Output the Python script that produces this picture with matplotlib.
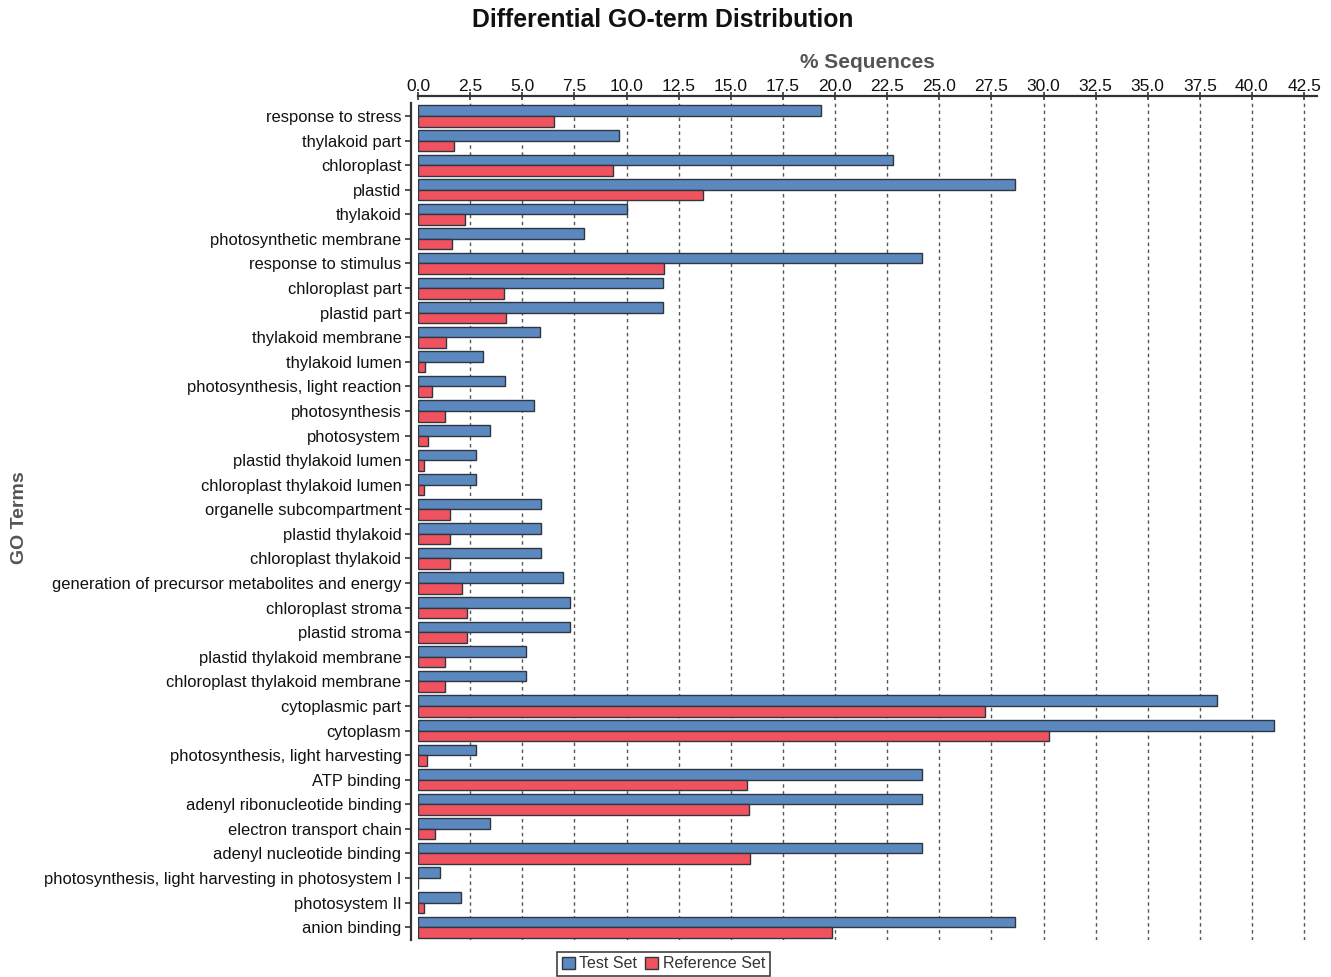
import matplotlib
matplotlib.use("Agg")
import matplotlib.pyplot as plt
import numpy as np
from matplotlib.patches import Patch

plt.rcParams['font.family'] = ['Liberation Sans', 'DejaVu Sans']

terms = ["response to stress", "thylakoid part", "chloroplast", "plastid", "thylakoid",
         "photosynthetic membrane", "response to stimulus", "chloroplast part", "plastid part",
         "thylakoid membrane", "thylakoid lumen", "photosynthesis, light reaction",
         "photosynthesis", "photosystem", "plastid thylakoid lumen", "chloroplast thylakoid lumen",
         "organelle subcompartment", "plastid thylakoid", "chloroplast thylakoid",
         "generation of precursor metabolites and energy", "chloroplast stroma", "plastid stroma",
         "plastid thylakoid membrane", "chloroplast thylakoid membrane", "cytoplasmic part",
         "cytoplasm", "photosynthesis, light harvesting", "ATP binding",
         "adenyl ribonucleotide binding", "electron transport chain", "adenyl nucleotide binding",
         "photosynthesis, light harvesting in photosystem I", "photosystem II", "anion binding"]

test_set = [19.32, 9.66, 22.77, 28.64, 10.0, 7.95, 24.17, 11.74, 11.74, 5.87, 3.11, 4.15,
            5.54, 3.46, 2.79, 2.79, 5.89, 5.89, 5.89, 6.93, 7.27, 7.27, 5.19, 5.19, 38.3,
            41.06, 2.79, 24.17, 24.17, 3.46, 24.17, 1.05, 2.07, 28.64]
reference_set = [6.51, 1.74, 9.33, 13.66, 2.26, 1.65, 11.82, 4.13, 4.2, 1.35, 0.33, 0.68,
                 1.27, 0.46, 0.28, 0.28, 1.51, 1.51, 1.51, 2.12, 2.34, 2.36, 1.3, 1.3, 27.19,
                 30.26, 0.42, 15.8, 15.85, 0.79, 15.9, 0.02, 0.28, 19.86]

x_ticks = [0.0, 2.5, 5.0, 7.5, 10.0, 12.5, 15.0, 17.5, 20.0, 22.5, 25.0, 27.5, 30.0,
           32.5, 35.0, 37.5, 40.0, 42.5]

blue = "#5B89BF"
red = "#F0535F"
edge = "#2F3640"

fig = plt.figure(figsize=(13.31, 9.77), dpi=100)
ax = fig.add_axes([0.3141, 0.0379, 0.6751, 0.8567])

y = np.arange(len(terms))
h = 0.43
ax.barh(y - h / 2, test_set, height=h, color=blue, edgecolor=edge, linewidth=1.0, zorder=3)
ax.barh(y + h / 2, reference_set, height=h, color=red, edgecolor=edge, linewidth=1.0, zorder=3)

ax.set_ylim(33.52, -0.53)
ax.set_xlim(0, 43.1)

for s in ['right', 'bottom']:
    ax.spines[s].set_visible(False)
ax.spines['top'].set_position(('outward', 5))
ax.spines['left'].set_position(('outward', 5))
ax.spines['top'].set_linewidth(1.6)
ax.spines['left'].set_linewidth(1.6)
ax.spines['top'].set_color("#333333")
ax.spines['left'].set_color("#333333")

ax.xaxis.tick_top()
ax.xaxis.set_label_position('top')
ax.set_yticks(y)
ax.set_yticklabels(terms)
ax.set_xticks(x_ticks)
ax.set_xticklabels([f"{t:.1f}" for t in x_ticks])
ax.tick_params(axis='x', direction='inout', length=6, width=1.2, pad=-1.5, colors="#333333",
               labelcolor="#111111", labelsize=12.5)
ax.tick_params(axis='y', direction='out', length=4, width=1.2, pad=3, colors="#333333",
               labelcolor="#111111", labelsize=11.9)

for x in x_ticks[1:]:
    ax.axvline(x, color="#555555", linestyle=(0, (2.5, 2.5)), linewidth=1.0, zorder=1)

ax.set_xlabel("% Sequences", fontsize=15, fontweight='bold', color="#555555", labelpad=8)
fig.text(0.015, 0.47, "GO Terms", rotation=90, fontsize=14, fontweight='bold',
         color="#555555", ha='center', va='center')
fig.text(0.498, 0.98, "Differential GO-term Distribution", fontsize=17.8, fontweight='bold',
         ha='center', va='center', color="#111111")

handles = [Patch(facecolor=blue, edgecolor=edge, label="Test Set"),
           Patch(facecolor=red, edgecolor=edge, label="Reference Set")]
leg = fig.legend(handles=handles, loc='center', bbox_to_anchor=(0.4985, 0.0135), ncol=2,
                 fontsize=11.5, frameon=True, fancybox=False, handlelength=0.8,
                 handleheight=0.8, handletextpad=0.3, columnspacing=0.5, borderpad=0.3,
                 borderaxespad=0)
leg.get_frame().set_edgecolor("#111111")
leg.get_frame().set_linewidth(1.2)
for t in leg.get_texts():
    t.set_color("#333333")

fig.savefig("out.png", dpi=100)
